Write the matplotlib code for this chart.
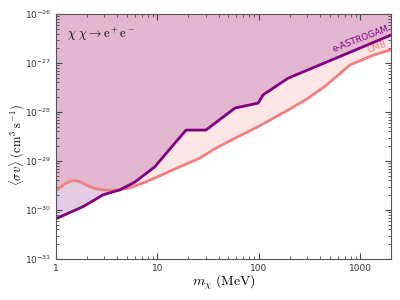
import matplotlib
matplotlib.use('Agg')
import matplotlib.pyplot as plt
import numpy as np

plt.rcParams['mathtext.fontset'] = 'cm'

# e-ASTROGAM projected sensitivity (mass in MeV, <sigma v> in cm^3/s)
astro_m = [1.0, 1.86, 2.92, 4.27, 6.0, 9.4, 19.1, 30.0, 58.0, 98.0, 110.0, 194.0, 2000.0]
astro_sv = [10**-30.18, 10**-29.93, 10**-29.69, 10**-29.59, 10**-29.43, 10**-29.12,
            10**-28.37, 10**-28.37, 10**-27.92, 10**-27.82, 10**-27.65, 10**-27.31, 10**-26.43]

# CMB limit
cmb_m = [1.0, 1.2, 1.4, 1.55, 1.75, 2.1, 2.5, 2.9, 3.5, 4.27, 5.5, 7.0, 9.4, 15.0, 26.2,
         38.3, 60.0, 98.0, 194.0, 300.0, 464.0, 788.0, 1337.0, 2000.0]
cmb_sv = [10**-29.61, 10**-29.48, 10**-29.41, 10**-29.40, 10**-29.43, 10**-29.52, 10**-29.57,
          10**-29.59, 10**-29.60, 10**-29.59, 10**-29.54, 10**-29.46, 10**-29.35, 10**-29.16,
          10**-28.94, 10**-28.73, 10**-28.52, 10**-28.30, 10**-27.96, 10**-27.73, 10**-27.45,
          10**-27.04, 10**-26.84, 10**-26.73]

fig = plt.figure(figsize=(4, 3), dpi=100)
ax = fig.add_axes([0.14, 0.137, 0.8375, 0.8163])

ax.fill_between(cmb_m, cmb_sv, 1e-26, color='lightcoral', alpha=0.2, lw=0)
ax.fill_between(astro_m, astro_sv, 1e-26, color='purple', alpha=0.2, lw=0)
ax.plot(cmb_m, cmb_sv, color='lightcoral', lw=2)
ax.plot(astro_m, astro_sv, color='purple', lw=2)

ax.set_xscale('log')
ax.set_yscale('log')
ax.set_xlim(1, 2000)
ax.set_ylim(1e-31, 1e-26)

ax.text(0.033, 0.955, r'$\chi\ \chi \rightarrow {\rm e^+ e^-}$', fontsize=9,
        transform=ax.transAxes, va='top')
ax.text(1960, 10**-26.38, 'e-ASTROGAM', color='purple', fontsize=6.5, rotation=21,
        ha='right', va='bottom', rotation_mode='anchor')
ax.text(1880, 10**-26.69, 'CMB', color='lightcoral', fontsize=6.5, rotation=21,
        ha='right', va='bottom', rotation_mode='anchor')

ax.set_xlabel(r'$m_\chi\ {\rm (MeV)}$', fontsize=10)
ax.set_ylabel(r'$\langle \sigma v \rangle\ {\rm (cm^3\ s^{-1})}$', fontsize=9)
ax.xaxis.set_label_coords(0.5, -0.055)
ax.yaxis.set_label_coords(-0.087, 0.465)
ax.set_xticks([1, 10, 100, 1000])
ax.set_xticklabels(['1', '10', '100', '1000'])

ax.tick_params(which='both', direction='in', top=True, right=True, colors='#444444',
               labelsize=6.5, labelcolor='#333333')
ax.tick_params(which='major', length=4)
ax.tick_params(which='minor', length=2)
for s in ax.spines.values():
    s.set_color('#555555')

fig.savefig('out.png', dpi=100)
